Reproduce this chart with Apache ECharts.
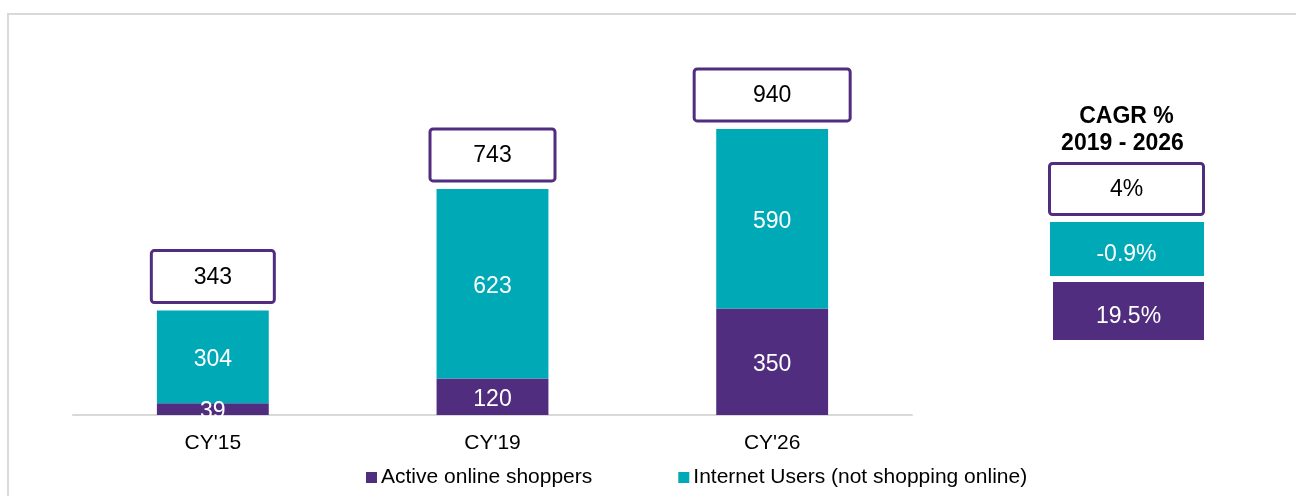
<!DOCTYPE html>
<html>
<head>
<meta charset="utf-8">
<script src="https://cdn.jsdelivr.net/npm/echarts@6/dist/echarts.min.js"></script>
<style>
  html, body { margin: 0; padding: 0; background: #ffffff; }
  #chart { width: 1296px; height: 496px; }
</style>
</head>
<body>
<div id="chart"></div>
<script>
// Online shopper base (millions), stacked by segment
const categories = ["CY'15", "CY'19", "CY'26"];
const activeShoppers = [39, 120, 350];
const nonShoppingUsers = [304, 623, 590];
const totals = [343, 743, 940];

// CAGR 2019 - 2026 panel
const cagrTitle = ['CAGR %', '2019 - 2026'];
const cagrTotal = '4%';
const cagrNonShopping = '-0.9%';
const cagrActive = '19.5%';

const PURPLE = '#512D80';
const TEAL = '#00A9B6';
const FONT = '"Liberation Sans", Arial, sans-serif';

// width of the outlined total box above each bar
const totalBoxWidths = [123, 125, 156];

const chart = echarts.init(document.getElementById('chart'), null, { renderer: 'canvas' });

// outlined total above each stack
function totalBox(params, api) {
  const pt = api.coord([api.value(0), api.value(1)]);
  const w = totalBoxWidths[params.dataIndex];
  const h = 52;
  const gap = 8;
  const top = pt[1] - gap - h;
  return {
    type: 'group',
    children: [
      {
        type: 'rect',
        shape: { x: pt[0] - w / 2, y: top, width: w, height: h, r: 3 },
        style: { fill: '#ffffff', stroke: PURPLE, lineWidth: 3 }
      },
      {
        type: 'text',
        x: pt[0], y: top + h / 2 + 1,
        style: {
          text: String(api.value(1)),
          fill: '#000000',
          font: '23px ' + FONT,
          align: 'center',
          verticalAlign: 'middle'
        }
      }
    ]
  };
}

// value of the bottom segment, centred on it and drawn above both stacks
function bottomSegmentLabel(params, api) {
  const pt = api.coord([api.value(0), api.value(1) / 2]);
  return {
    type: 'text',
    x: pt[0], y: pt[1] + 2.5,
    z2: 100,
    style: {
      text: String(api.value(1)),
      fill: '#ffffff',
      font: '23px ' + FONT,
      align: 'center',
      verticalAlign: 'middle'
    }
  };
}

const cagrX = 1126.5;

chart.setOption({
  animation: false,
  backgroundColor: '#ffffff',
  textStyle: { fontFamily: FONT },
  grid: { left: 73, right: 384, top: 49.8, bottom: 81, containLabel: false },
  xAxis: {
    type: 'category',
    data: categories,
    axisLine: { show: true, lineStyle: { color: '#d9d9d9', width: 2 } },
    axisTick: { show: false },
    axisLabel: { color: '#000000', fontSize: 21, fontFamily: FONT, margin: 18 }
  },
  yAxis: {
    type: 'value',
    min: 0,
    max: 1200,
    show: false,
    splitLine: { show: false }
  },
  legend: {
    data: ['Active online shoppers', 'Internet Users (not shopping online)'],
    left: 366,
    top: 467,
    padding: 0,
    icon: 'rect',
    itemWidth: 11,
    itemHeight: 11,
    itemGap: 86,
    textStyle: { color: '#000000', fontSize: 21, fontFamily: FONT, padding: [0, 0, 0, -1] }
  },
  series: [
    {
      name: 'Active online shoppers',
      type: 'bar',
      stack: 'users',
      barWidth: '40%',
      data: activeShoppers,
      itemStyle: { color: PURPLE }
    },
    {
      name: 'Internet Users (not shopping online)',
      type: 'bar',
      stack: 'users',
      barWidth: '40%',
      data: nonShoppingUsers,
      itemStyle: { color: TEAL },
      label: {
        show: true, position: 'inside', offset: [0, 3], color: '#ffffff',
        fontSize: 23, fontFamily: FONT
      }
    },
    {
      name: 'Active label',
      type: 'custom',
      renderItem: bottomSegmentLabel,
      data: activeShoppers.map((v, i) => [i, v]),
      encode: { x: 0, y: 1 },
      z: 6
    },
    {
      name: 'Total',
      type: 'custom',
      renderItem: totalBox,
      data: totals.map((v, i) => [i, v]),
      encode: { x: 0, y: 1 },
      z: 5
    }
  ],
  graphic: [
    // outer frame
    {
      type: 'rect',
      shape: { x: 8, y: 14, width: 1400, height: 600 },
      style: { fill: 'none', stroke: '#d9d9d9', lineWidth: 2 },
      silent: true
    },
    // CAGR heading
    {
      type: 'text',
      x: cagrX, y: 117,
      style: {
        text: cagrTitle[0], fill: '#000000', font: 'bold 23px ' + FONT,
        align: 'center', verticalAlign: 'middle'
      }
    },
    {
      type: 'text',
      x: cagrX - 4, y: 144,
      style: {
        text: cagrTitle[1], fill: '#000000', font: 'bold 23px ' + FONT,
        align: 'center', verticalAlign: 'middle'
      }
    },
    // total CAGR
    {
      type: 'rect',
      shape: { x: 1049.5, y: 163.5, width: 154, height: 51, r: 3 },
      style: { fill: '#ffffff', stroke: PURPLE, lineWidth: 3 }
    },
    {
      type: 'text',
      x: cagrX, y: 190,
      style: {
        text: cagrTotal, fill: '#000000', font: '23px ' + FONT,
        align: 'center', verticalAlign: 'middle'
      }
    },
    // non-shopping users CAGR
    {
      type: 'rect',
      shape: { x: 1050, y: 222, width: 154, height: 54 },
      style: { fill: TEAL }
    },
    {
      type: 'text',
      x: cagrX, y: 255,
      style: {
        text: cagrNonShopping, fill: '#ffffff', font: '23px ' + FONT,
        align: 'center', verticalAlign: 'middle'
      }
    },
    // active shoppers CAGR
    {
      type: 'rect',
      shape: { x: 1053, y: 282, width: 151, height: 58 },
      style: { fill: PURPLE }
    },
    {
      type: 'text',
      x: 1128.5, y: 317,
      style: {
        text: cagrActive, fill: '#ffffff', font: '23px ' + FONT,
        align: 'center', verticalAlign: 'middle'
      }
    }
  ]
});
</script>
</body>
</html>
